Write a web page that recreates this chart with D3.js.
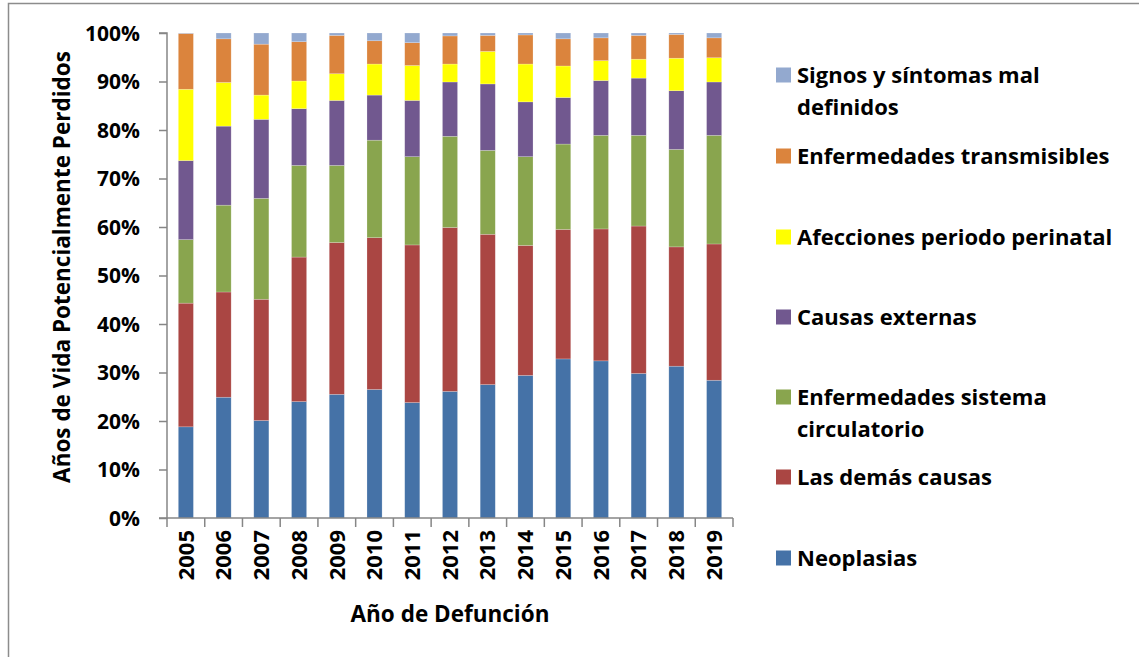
<!DOCTYPE html>
<html>
<head>
<meta charset="utf-8">
<script src="https://cdn.jsdelivr.net/npm/d3@7"></script>
<style>
  body { margin: 0; background: #fff; }
  svg text { font-family: "Open Sans", Lato, sans-serif; font-weight: bold; fill: #000; }
</style>
</head>
<body>
<svg id="chart" width="1139" height="657"></svg>
<script>
// years on the x axis
var years = ["2005","2006","2007","2008","2009","2010","2011","2012","2013","2014","2015","2016","2017","2018","2019"];

// share of years of potential life lost, %
var neoplasias     = [18.8, 24.9, 20.1, 24.0, 25.5, 26.5, 23.8, 26.1, 27.5, 29.4, 32.8, 32.4, 29.8, 31.3, 28.4];
var demasCausas    = [25.5, 21.7, 25.0, 29.8, 31.3, 31.3, 32.5, 33.8, 31.0, 26.8, 26.7, 27.2, 30.4, 24.6, 28.1];
var circulatorio   = [13.1, 17.9, 20.8, 18.9, 15.9, 20.1, 18.2, 18.8, 17.3, 18.3, 17.6, 19.3, 18.7, 20.1, 22.4];
var externas       = [16.3, 16.3, 16.3, 11.7, 13.4,  9.3, 11.6, 11.2, 13.7, 11.3,  9.6, 11.3, 11.8, 12.1, 11.0];
var perinatal      = [14.7,  9.0,  5.0,  5.7,  5.5,  6.4,  7.2,  3.7,  6.7,  7.8,  6.5,  4.1,  3.9,  6.7,  5.0];
var transmisibles  = [11.5,  9.0, 10.5,  8.1,  7.9,  4.8,  4.7,  5.8,  3.3,  6.0,  5.6,  4.7,  4.9,  4.9,  4.1];
var signos         = [ 0.1,  1.2,  2.3,  1.8,  0.5,  1.6,  2.0,  0.6,  0.5,  0.4,  1.2,  1.0,  0.5,  0.3,  1.0];

// series, bottom to top
var seriesNames = ["Neoplasias", "Las demás causas", "Enfermedades sistema circulatorio",
                   "Causas externas", "Afecciones periodo perinatal",
                   "Enfermedades transmisibles", "Signos y síntomas mal definidos"];
var seriesValues = [neoplasias, demasCausas, circulatorio, externas, perinatal, transmisibles, signos];
var seriesColors = ["#4572A7", "#AA4643", "#89A54E", "#71588F", "#FFFF00", "#DB843D", "#93A9CF"];

// legend labels, top to bottom (wrapped like the original)
var legendLines = [
    ["Signos y síntomas mal", "definidos"],
    ["Enfermedades transmisibles"],
    ["Afecciones periodo perinatal"],
    ["Causas externas"],
    ["Enfermedades sistema", "circulatorio"],
    ["Las demás causas"],
    ["Neoplasias"]
];

var yTicks = [0, 0.1, 0.2, 0.3, 0.4, 0.5, 0.6, 0.7, 0.8, 0.9, 1];

var svg = d3.select("#chart");

// outer chart frame (clipped by the picture on the right/bottom)
svg.append("rect")
    .attr("x", 8.5).attr("y", 3.5)
    .attr("width", 1200).attr("height", 700)
    .attr("fill", "none")
    .attr("stroke", "#8c8c8c")
    .attr("stroke-width", 1.5);

var plot = { left: 167, right: 733, top: 33, bottom: 518 };

// build table rows for d3.stack
var table = years.map(function(y, i){
    var row = { year: y };
    seriesNames.forEach(function(name, s){ row[name] = seriesValues[s][i]; });
    return row;
});

var stack = d3.stack()
    .keys(seriesNames)
    .offset(d3.stackOffsetExpand);
var layers = stack(table);

var x = d3.scaleBand()
    .domain(years)
    .range([plot.left, plot.right])
    .paddingInner(0.6)
    .paddingOuter(0.3);

var y = d3.scaleLinear()
    .domain([0, 1])
    .range([plot.bottom, plot.top]);

// bars
var g_bars = svg.append("g").attr("class", "bars");
g_bars.selectAll("g")
    .data(layers)
    .enter().append("g")
    .attr("fill", function(d, i){ return seriesColors[i]; })
    .selectAll("rect")
    .data(function(d){ return d; })
    .enter().append("rect")
    .attr("x", function(d){ return x(d.data.year); })
    .attr("width", x.bandwidth())
    .attr("y", function(d){ return y(d[1]); })
    .attr("height", function(d){ return y(d[0]) - y(d[1]); })
    .attr("stroke", "rgba(255,255,255,0.35)")
    .attr("stroke-width", 0.6);

// y axis
var yAxis = d3.axisLeft(y)
    .tickValues(yTicks)
    .tickFormat(d3.format(".0%"))
    .tickSize(8)
    .tickPadding(19);
var gy = svg.append("g")
    .attr("transform", "translate(" + plot.left + ",0)")
    .call(yAxis);
gy.select(".domain").attr("stroke", "#868686").attr("stroke-width", 1.5)
    .attr("d", "M" + (-8) + "," + plot.top + "H0V" + plot.bottom + "H-8");
gy.selectAll(".tick line").attr("stroke", "#868686").attr("stroke-width", 1.5);
gy.selectAll(".tick text")
    .style("font-size", "21px")
    .attr("dy", "0.35em");

// x axis (ticks between categories)
var gx = svg.append("g")
    .attr("transform", "translate(0," + plot.bottom + ")");
gx.append("line")
    .attr("x1", plot.left).attr("x2", plot.right)
    .attr("stroke", "#868686").attr("stroke-width", 1.5);
var bounds = years.map(function(d){ return x(d) - x.step() * x.paddingInner() / 2; });
bounds.push(plot.right);
gx.selectAll("line.tk")
    .data(bounds)
    .enter().append("line")
    .attr("class", "tk")
    .attr("x1", function(d){ return d; })
    .attr("x2", function(d){ return d; })
    .attr("y1", 0).attr("y2", 9)
    .attr("stroke", "#868686").attr("stroke-width", 1.5);
gx.selectAll("text")
    .data(years)
    .enter().append("text")
    .attr("transform", function(d){
        return "translate(" + (x(d) + x.bandwidth() / 2) + ",12) rotate(-90)";
    })
    .attr("text-anchor", "end")
    .attr("dy", "0.35em")
    .style("font-size", "22px")
    .text(function(d){ return d; });

// axis titles
svg.append("text")
    .attr("transform", "translate(62,267) rotate(-90)")
    .attr("text-anchor", "middle")
    .attr("dy", "0.35em")
    .style("font-size", "22.5px")
    .text("Años de Vida Potencialmente Perdidos");

svg.append("text")
    .attr("x", 450).attr("y", 614)
    .attr("text-anchor", "middle")
    .attr("dy", "0.35em")
    .style("font-size", "22.5px")
    .text("Año de Defunción");

// legend
var legendY = [75, 156, 237, 317, 397, 477, 558];
var legendColors = seriesColors.slice().reverse();
var g_leg = svg.append("g").attr("class", "legend");
legendLines.forEach(function(lines, i){
    g_leg.append("rect")
        .attr("x", 776).attr("y", legendY[i] - 7.5)
        .attr("width", 15).attr("height", 15)
        .attr("fill", legendColors[i]);
    lines.forEach(function(t, k){
        g_leg.append("text")
            .attr("x", 797)
            .attr("y", legendY[i] + k * 32)
            .attr("dy", "0.35em")
            .style("font-size", "22px")
            .text(t);
    });
});
</script>
</body>
</html>
